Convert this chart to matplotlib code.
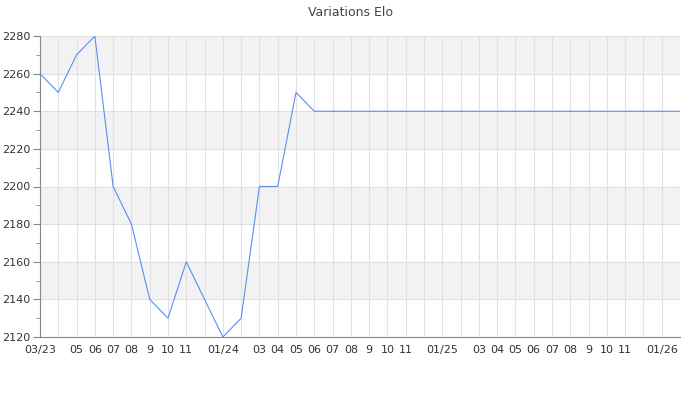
import matplotlib
matplotlib.use("Agg")
import matplotlib.pyplot as plt
from matplotlib.ticker import MultipleLocator

# monthly Elo, 03/23 .. 02/26
months = ['03/23', '04/23', '05/23', '06/23', '07/23', '08/23', '09/23', '10/23', '11/23', '12/23',
          '01/24', '02/24', '03/24', '04/24', '05/24', '06/24', '07/24', '08/24', '09/24', '10/24',
          '11/24', '12/24', '01/25', '02/25', '03/25', '04/25', '05/25', '06/25', '07/25', '08/25',
          '09/25', '10/25', '11/25', '12/25', '01/26', '02/26']
elo = [2260, 2250, 2270, 2280, 2200, 2180, 2140, 2130, 2160, 2140,
       2120, 2130, 2200, 2200, 2250, 2240, 2240, 2240, 2240, 2240,
       2240, 2240, 2240, 2240, 2240, 2240, 2240, 2240, 2240, 2240,
       2240, 2240, 2240, 2240, 2240, 2240]
tick_labels = ['03/23', '', '05', '06', '07', '08', '9', '10', '11', '',
               '01/24', '', '03', '04', '05', '06', '07', '08', '9', '10',
               '11', '', '01/25', '', '03', '04', '05', '06', '07', '08',
               '9', '10', '11', '', '01/26', '']

x = list(range(len(months)))

fig = plt.figure(figsize=(7, 4), dpi=100)
ax = fig.add_axes([40 / 700, 1 - 337 / 400, 640 / 700, 301 / 400])

ymin, ymax = 2120, 2280
# alternating bands
for lo in range(ymin, ymax, 20):
    if ((lo - ymin) // 20) % 2 == 1:
        ax.axhspan(lo, lo + 20, color='#f2f2f2', zorder=0, lw=0)

ax.plot(x, elo, color='#5b8fef', lw=0.8, zorder=3)

ax.set_xlim(0, len(months) - 1)
ax.set_ylim(ymin, ymax)
ax.set_xticks(x)
ax.set_xticklabels(tick_labels)
ax.yaxis.set_major_locator(MultipleLocator(20))
ax.yaxis.set_minor_locator(MultipleLocator(10))
ax.grid(True, which='major', color='#e0e0e0', lw=0.8, zorder=1)
ax.set_axisbelow(True)

for s in ['top', 'right']:
    ax.spines[s].set_visible(False)
for s in ['left', 'bottom']:
    ax.spines[s].set_color('#888888')
    ax.spines[s].set_linewidth(0.8)

ax.tick_params(axis='x', length=0, labelsize=8, labelcolor='#333333', pad=6)
ax.tick_params(axis='y', which='major', length=5, color='#888888', labelsize=8, labelcolor='#333333', pad=2)
ax.tick_params(axis='y', which='minor', length=3, color='#888888')

fig.suptitle('Variations Elo', y=1 - 12 / 400, va='center', fontsize=9, color='#444444')

fig.savefig('out.png', dpi=100)
